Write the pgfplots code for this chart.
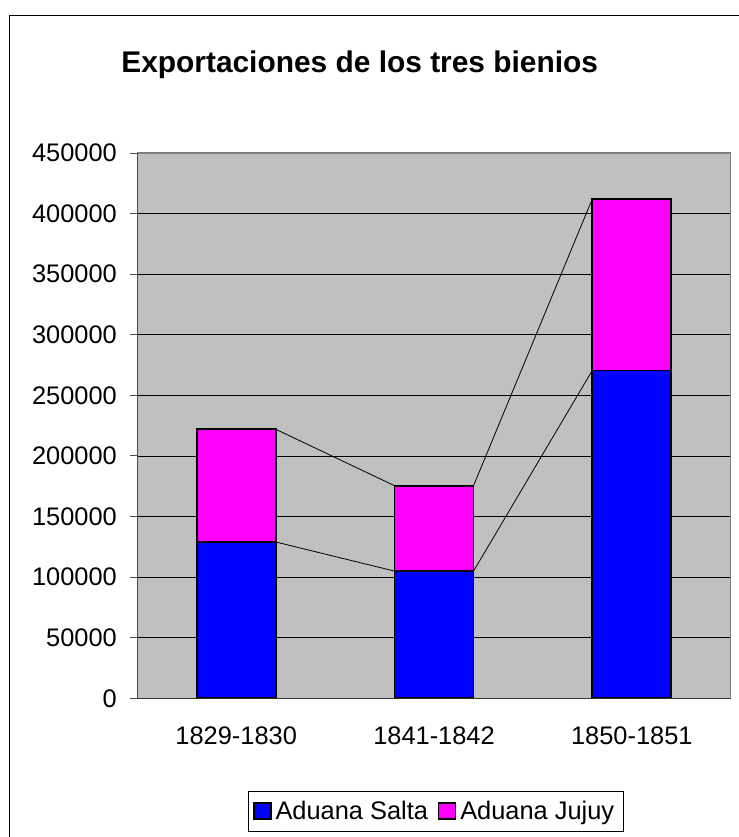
\documentclass[border=0pt]{standalone}
\usepackage{pgfplots}
\pgfplotsset{compat=1.18}
\usepackage{fontspec}
\setmainfont{Liberation Sans}
\definecolor{plotbg}{RGB}{192,192,192}
\definecolor{salta}{RGB}{0,0,255}
\definecolor{jujuy}{RGB}{255,0,255}
\begin{document}
\begin{tikzpicture}
\clip (0bp,0bp) rectangle (739bp,-837bp);
\fill[white] (0bp,0bp) rectangle (739bp,-837bp);
\draw[black, line width=1bp] (9bp,-15bp) rectangle (780bp,-880bp);
\node[anchor=base, font=\fontsize{30}{30}\selectfont\bfseries] at (359.7bp,-72.7bp) {Exportaciones de los tres bienios};
\begin{axis}[
  at={(137.3bp,-698.3bp)}, anchor=south west,
  scale only axis, width=593.4bp, height=545.3bp,
  ybar stacked, bar width=79bp,
  xmin=-0.5, xmax=2.5, ymin=0, ymax=450000,
  ytick={0,50000,...,450000},
  scaled y ticks=false,
  /pgf/number format/.cd, fixed, 1000 sep={}, assume math mode=true, /pgfplots/.cd,
  xtick={0,1,2}, xticklabels={1829-1830,1841-1842,1850-1851},
  tick pos=left,
  x tick style={draw=none},
  extra x ticks={-0.5,0.5,1.5,2.5}, extra x tick labels={},
  extra x tick style={tick style={draw=black, line width=0.8bp}, major tick length=8bp, tick align=outside},
  y tick style={draw=black!70, line width=1bp},
  tick align=outside, major tick length=7bp,
  ymajorgrids, grid style={black, line width=0.8bp},
  axis background/.style={fill=plotbg},
  axis line style={draw=gray, line width=1.2bp},
  tick label style={font=\fontsize{25.5}{25.5}\selectfont},
  yticklabel style={xshift=-10bp},
  xticklabel style={yshift=-18bp},
  legend columns=2,
  legend style={at={(axis description cs:0.503,-0.2067)}, anchor=center, draw=black, line width=0.8bp,
    font=\fontsize{25.5}{25.5}\selectfont, inner xsep=5bp, inner ysep=8bp,
    nodes={inner xsep=4bp},
    /tikz/every even column/.append style={column sep=6bp}},
  legend image code/.code={\draw[#1, draw=black, line width=1.2bp] (0bp,-8bp) rectangle (17bp,8bp);},
]
\addplot[fill=salta, draw=black, line width=1.8bp] coordinates {(0,129000) (1,105000) (2,270500)};
\addlegendentry{Aduana Salta}
\addplot[fill=jujuy, draw=black, line width=1.8bp] coordinates {(0,93000) (1,70500) (2,141500)};
\addlegendentry{Aduana Jujuy}
\end{axis}
\begin{axis}[
  at={(137.3bp,-698.3bp)}, anchor=south west,
  scale only axis, width=593.4bp, height=545.3bp,
  xmin=-0.5, xmax=2.5, ymin=0, ymax=450000,
  hide axis,
]
\addplot[black, line width=0.8bp, mark=none] coordinates {(0.2,129000) (0.8,105000) (1.2,105000) (1.8,270500)};
\addplot[black, line width=0.8bp, mark=none] coordinates {(0.2,222000) (0.8,175500) (1.2,175500) (1.8,412000)};
\draw[black!80, line width=1.2bp] (axis cs:-0.5,450000) -- (axis cs:-0.5,0) -- (axis cs:2.5,0);
\end{axis}
\end{tikzpicture}
\end{document}
